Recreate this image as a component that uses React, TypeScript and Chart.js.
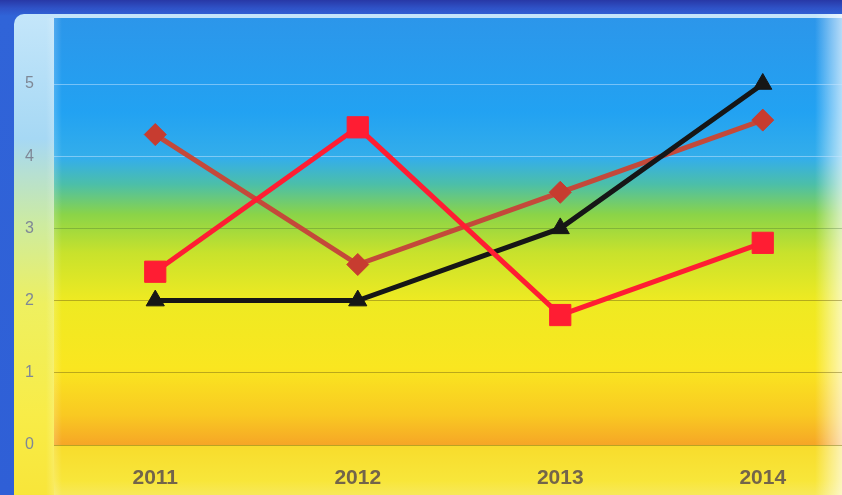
import React, { useEffect, useRef } from "react";
import { Chart, registerables } from "chart.js";
Chart.register(...registerables);

const years = ["2011", "2012", "2013", "2014"];
const seriesDiamond = [4.3, 2.5, 3.5, 4.5];
const seriesSquare = [2.4, 4.4, 1.8, 2.8];
const seriesTriangle = [2, 2, 3, 5];
const yMin = 0;
const yMax = 5;

export default function App() {
  const ref = useRef<HTMLCanvasElement | null>(null);
  useEffect(() => {
    if (!ref.current) return;
    const chart = new Chart(ref.current, {
      type: "line",
      data: {
        labels: years,
        datasets: [
          {
            label: "A",
            data: seriesDiamond,
            borderColor: "#c4493a",
            backgroundColor: "#c73c30",
            pointBackgroundColor: "#c73c30",
            pointBorderColor: "#c73c30",
            borderWidth: 5,
            pointStyle: "rectRot",
            pointRadius: 11,
            pointBorderWidth: 1,
            order: 2,
            clip: false,
            tension: 0,
          },
          {
            label: "B",
            data: seriesTriangle,
            borderColor: "#161616",
            backgroundColor: "#161616",
            pointBackgroundColor: "#161616",
            pointBorderColor: "#161616",
            borderWidth: 5,
            pointStyle: "triangle",
            pointRadius: 10.5,
            pointBorderWidth: 1,
            order: 1,
            clip: false,
            tension: 0,
          },
          {
            label: "C",
            data: seriesSquare,
            borderColor: "#ff1d33",
            backgroundColor: "#ff1d33",
            pointBackgroundColor: "#ff1d33",
            pointBorderColor: "#ff1d33",
            borderWidth: 5,
            pointStyle: "rect",
            pointRadius: 15,
            pointBorderWidth: 1,
            order: 0,
            clip: false,
            tension: 0,
          },
        ],
      },
      options: {
        animation: false,
        responsive: false,
        devicePixelRatio: 1,
        layout: { padding: { top: 84, right: 15.3, bottom: 0, left: 20 } },
        plugins: { legend: { display: false }, tooltip: { enabled: false } },
        scales: {
          x: {
            offset: true,
            grid: { display: false },
            border: { display: false },
            ticks: {
              color: "#73654a",
              font: { family: "Liberation Sans", size: 21, weight: "bold" },
              padding: 13,
            },
            afterFit: (s: any) => {
              s.height = 50;
            },
          },
          y: {
            min: yMin,
            max: yMax,
            border: { display: false },
            grid: {
              drawTicks: false,
              lineWidth: 1,
              color: (ctx: any) => {
                const v = ctx.tick ? ctx.tick.value : 0;
                if (v >= 4) return "rgba(200,230,255,0.5)";
                if (v === 3) return "rgba(60,100,50,0.3)";
                return "rgba(110,95,20,0.45)";
              },
            },
            ticks: {
              stepSize: 1,
              color: "#7f8896",
              font: { family: "Liberation Sans", size: 16 },
              padding: 20,
            },
            afterFit: (s: any) => {
              s.width = 34;
            },
          },
        },
      },
    });
    return () => chart.destroy();
  }, []);

  return (
    <div
      style={{
        position: "fixed",
        left: 0,
        top: 0,
        width: 842,
        height: 495,
        overflow: "hidden",
        background: "linear-gradient(to bottom, #2838a6 0px, #2f52c6 8px, #3064d8 16px, #2f5fd6 100%)",
      }}
    >
      <div
        style={{
          position: "absolute",
          left: 14,
          top: 14,
          width: 850,
          height: 500,
          borderRadius: 10,
          background:
            "linear-gradient(to bottom, #c4e6fa 0%, #a6d8f4 25%, #cdeba0 42%, #eef060 58%, #f8ec48 80%, #f8e436 100%)",
        }}
      />
      <div
        style={{
          position: "absolute",
          left: 54,
          top: 18,
          width: 800,
          height: 427,
          background:
            "linear-gradient(to bottom, #2c96ea 0%, #22a2f2 22%, #34aeea 33%, #4cbfa8 39%, #8ad448 46%, #c8e22c 55%, #eeea22 66%, #fae620 82%, #f9c922 93%, #f6a626 100%)",
        }}
      />
      <div
        style={{
          position: "absolute",
          left: 54,
          top: 445,
          width: 800,
          height: 60,
          background: "linear-gradient(to bottom, #f8dc2c 0%, #f8e63a 60%, #f6ea70 100%)",
        }}
      />
      <div
        style={{
          position: "absolute",
          left: 46,
          top: 18,
          width: 16,
          height: 480,
          background: "linear-gradient(to right, rgba(255,255,255,0) 0%, rgba(255,255,255,0.18) 50%, rgba(255,255,255,0) 100%)",
        }}
      />
      <div
        style={{
          position: "absolute",
          left: 815,
          top: 14,
          width: 27,
          height: 490,
          background: "linear-gradient(to right, rgba(255,255,255,0) 0%, rgba(255,255,255,0.4) 60%, rgba(255,255,255,0.65) 100%)",
        }}
      />
      <canvas
        ref={ref}
        width={880}
        height={495}
        style={{ position: "absolute", left: 0, top: 0, width: 880, height: 495 }}
      />
    </div>
  );
}
